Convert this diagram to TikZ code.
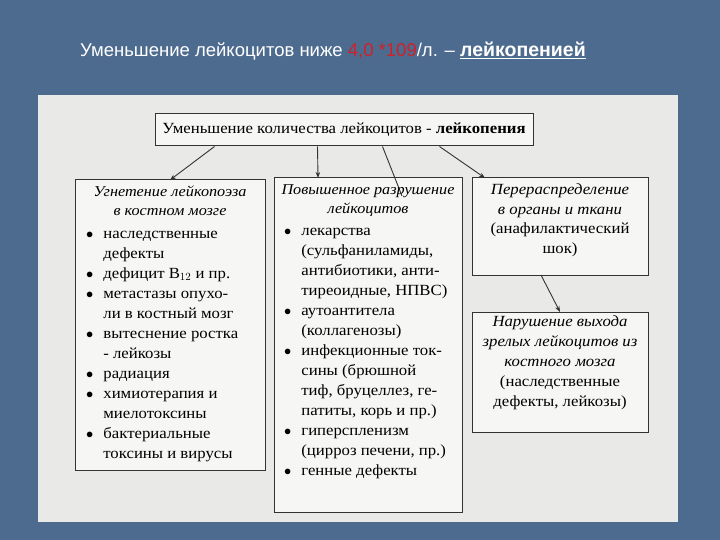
\documentclass[tikz,border=0pt]{standalone}
\usetikzlibrary{arrows.meta}
\usepackage{fontspec}
\setmainfont{Liberation Serif}[FakeStretch=1.08]
\newfontfamily\titlefont{Liberation Sans}
\definecolor{bg}{HTML}{4D6B8E}
\definecolor{panel}{HTML}{E9E9E7}
\definecolor{boxfill}{HTML}{F6F6F4}
\definecolor{redt}{HTML}{D0202A}
\begin{document}
\begin{tikzpicture}[x=1pt,y=-1pt,
  box/.style={draw=black!80,line width=1pt,fill=boxfill},
  txt/.style={font=\fontsize{15.5}{20}\selectfont,align=left,anchor=north west,inner sep=0pt},
  arr/.style={draw=black!80,line width=0.9pt,-{Stealth[length=6pt]}}]
\useasboundingbox (0,0) rectangle (720,540);
\fill[bg] (0,0) rectangle (720,540);
\fill[panel] (38,95) rectangle (678,522);
\node[text=white,anchor=west,inner sep=0pt,font=\titlefont\fontsize{18.5}{20}\selectfont] (title) at (80,51)
 {Уменьшение лейкоцитов ниже \textcolor{redt}{4,0 *109}/л. – {\fontsize{19.5}{21}\selectfont\bfseries\underline{лейкопенией}}};
% boxes
\node[box,minimum width=378,minimum height=32,font=\fontsize{15.5}{17}\selectfont] (top) at (344,130) {Уменьшение количества лейкоцитов - \textbf{лейкопения}};
\path[box] (75,180) rectangle (265,470);
\coordinate (L) at (170,180);
\path[box] (274,178) rectangle (462,512);
\coordinate (M) at (318,178);
\path[box] (472,178) rectangle (648,275);
\coordinate (R) at (485,178);
\coordinate (Rb) at (541,275);
\path[box] (472,312) rectangle (648,432);
\coordinate (B) at (560,312);
% arrows
\draw[arr] (top.south west) ++(60,0) -- (L);
\draw[arr] (top.south west) ++(163,0) -- (M);
\draw[draw=black!80,line width=0.9pt] (top.south west) ++(228,0) -- (402,196);
\draw[arr] (top.south west) ++(285,0) -- (R);
\draw[arr] (Rb) -- (B);
% left text
\node[txt,align=center,anchor=north,font=\itshape\fontsize{15}{19}\selectfont] (lt) at (170,186) {Угнетение лейкопоэза\\в костном мозге};
\node[txt] (ll) at (86,224) {%
\begin{tabular}{@{}l@{\hspace{10pt}}l@{}}
$\bullet$ & наследственные\\ & дефекты\\
$\bullet$ & дефицит B$_{12}$ и пр.\\
$\bullet$ & метастазы опухо-\\ & ли в костный мозг\\
$\bullet$ & вытеснение ростка\\ & - лейкозы\\
$\bullet$ & радиация\\
$\bullet$ & химиотерапия и\\ & миелотоксины\\
$\bullet$ & бактериальные\\ & токсины и вирусы
\end{tabular}};
% middle
\node[txt,align=center,anchor=north,font=\itshape\fontsize{15}{19}\selectfont] (mt) at (368,184) {Повышенное разрушение\\лейкоцитов};
\node[txt] (ml) at (284,221) {%
\begin{tabular}{@{}l@{\hspace{10pt}}l@{}}
$\bullet$ & лекарства\\ & (сульфаниламиды,\\ & антибиотики, анти-\\ & тиреоидные, НПВС)\\
$\bullet$ & аутоантитела\\ & (коллагенозы)\\
$\bullet$ & инфекционные ток-\\ & сины (брюшной\\ & тиф, бруцеллез, ге-\\ & патиты, корь и пр.)\\
$\bullet$ & гиперспленизм\\ & (цирроз печени, пр.)\\
$\bullet$ & генные дефекты
\end{tabular}};
% right
\node[txt,align=center,anchor=north,font=\fontsize{15.5}{19.5}\selectfont] (rt) at (560,184) {\textit{Перераспределение}\\\textit{в органы и ткани}\\(анафилактический\\шок)};
\node[txt,align=center,anchor=north,font=\fontsize{15.5}{20}\selectfont] (bt) at (560,316) {\textit{Нарушение выхода}\\\textit{зрелых лейкоцитов из}\\\textit{костного мозга}\\(наследственные\\дефекты, лейкозы)};
\end{tikzpicture}
\end{document}
